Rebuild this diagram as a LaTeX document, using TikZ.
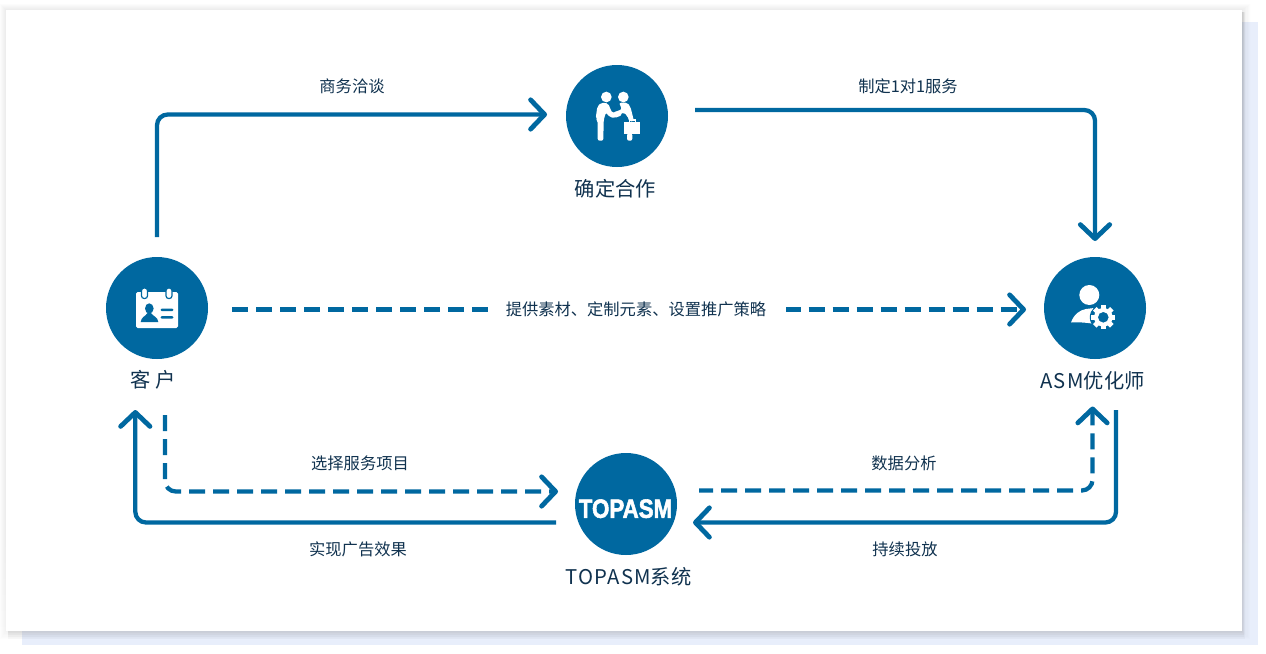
\documentclass[tikz,border=0pt]{standalone}
\usepackage{fontspec}
\setmainfont{Noto Sans CJK SC}
\newfontfamily\logofont[FakeBold=2.2]{Liberation Sans}
\newfontfamily\widelatin[LetterSpace=6]{Noto Sans CJK SC}
\usetikzlibrary{arrows.meta}
\definecolor{flow}{HTML}{0068A0}
\definecolor{ink}{HTML}{10324F}
\definecolor{back}{HTML}{E8EEFB}
\definecolor{shade}{HTML}{5A6E96}
\tikzset{
  x=0.75pt,y=-0.75pt,
  hub/.style={circle,fill=flow,draw=none,minimum size=76.5pt,inner sep=0pt},
  small/.style={text=ink,font=\fontsize{12.2pt}{14pt}\selectfont,inner sep=0pt},
  big/.style={text=ink,font=\fontsize{15.2pt}{18pt}\selectfont,inner sep=0pt},
  wire/.style={draw=flow,line width=3.2pt,rounded corners=8pt,-{Straight Barb[length=10.5pt,width=22pt,round,line width=3.6pt]}},
  wireplain/.style={draw=flow,line width=3.2pt},
  dashline/.style={dash pattern=on 12pt off 6pt},
  icon/.style={fill=white,draw=none},
}
\begin{document}
\begin{tikzpicture}
\useasboundingbox (0,0) rectangle (1266,653);
\fill[white] (0,0) rectangle (1266,653);
\fill[back] (22,22) rectangle (1258,645);
% soft shadow of the panel
\foreach \d in {12,10,8,6,4,2}{
  \fill[shade,opacity=0.008] (6-\d*0.5,10-\d*0.5) rectangle (1242+\d*0.7,631+\d*0.7);
}
\foreach \d in {8,6,4,2}{
  \fill[shade,opacity=0.025] (8,12) rectangle (1242+\d*0.4,631+\d);
}
\fill[white] (6,10) rectangle (1242,631);

% hubs
\node[hub] (client) at (157,308) {};
\node[hub] (deal) at (617,116) {};
\node[hub] (asm) at (1095,308) {};
\node[hub] (sys) at (626,504) {};

% hub captions
\node[big] (clientT) at (153,380) {客 户};
\node[big] (dealT) at (615.5,188.5) {确定合作};
\node[big] (asmT) at (1092.5,380.5) {{\widelatin ASM}优化师};
\node[big] (sysT) at (628.5,576.5) {{\widelatin TOPASM}系统};

% connector labels
\node[small] (l1) at (352,86) {商务洽谈};
\node[small] (l2) at (908,86) {制定1对1服务};
\node[small] (l3) at (636,309.5) {提供素材、定制元素、设置推广策略};
\node[small] (l4) at (360,463) {选择服务项目};
\node[small] (l5) at (358,549) {实现广告效果};
\node[small] (l6) at (904,463) {数据分析};
\node[small] (l7) at (905,549) {持续投放};

% connector ends
\coordinate (a1) at (157,237);
\coordinate (a2) at (547,114.5);
\coordinate (b1) at (695,110);
\coordinate (b2) at (1095,241);
\coordinate (c1) at (232,309.5);
\coordinate (c2) at (488,309.5);
\coordinate (c3) at (786,309.5);
\coordinate (c4) at (1026,309.5);
\coordinate (d1) at (165,415);
\coordinate (d2) at (558,491.5);
\coordinate (e1) at (556,522.5);
\coordinate (e2) at (135.3,410);
\coordinate (f1) at (699,490.5);
\coordinate (f2) at (1092.5,406.5);
\coordinate (g1) at (1116,410);
\coordinate (g2) at (693,522.5);

\draw[wire] (a1) |- (a2);
\draw[wire] (b1) -| (b2);
\draw[wireplain,dashline] (c1) -- (c2);
\draw[wire,dash pattern=on 12pt off 6pt,dash phase=1pt] (c3) -- (c4);
\draw[wire,dashline] (d1) |- (d2);
\draw[wire] (e1) -| (e2);
\draw[wire,dash pattern=on 12pt off 6pt,dash phase=1.5pt] (f1) -| (f2);
\draw[wire] (g1) |- (g2);

% handshake icon (coordinates read at 3x)
\begin{scope}[shift={(540,50)},x=0.25pt,y=-0.25pt]
  \fill[icon] (199,141) circle[radius=16];
  \fill[icon] (250,141) circle[radius=16];
  \fill[icon,rounded corners=1.5pt] (183,158) -- (205,160) -- (210,175) -- (218,190) -- (245,186) -- (247,195) -- (225,204) -- (208,201) -- (198,187) -- (191,210) -- (190,272) -- (173,272) -- (173,212) -- (167,205) -- (172,170) -- cycle;
  \fill[icon,rounded corners=1.5pt] (238,158) -- (262,158) -- (271,170) -- (282,213) -- (268,215) -- (262,197) -- (250,187) -- (222,197) -- (218,188) -- (246,178) -- (240,166) -- cycle;
  \fill[icon] (253,216) rectangle (300,252);
  \draw[white,line width=0.9pt] (268,216) -- (268,210) -- (286,210) -- (286,216);
  \fill[icon,rounded corners=1.5pt] (261,250) rectangle (277,272);
\end{scope}

% card icon
\fill[icon,rounded corners=1.2pt] (136,292) rectangle (178,328);
\foreach \rx in {144.5,169}{
  \draw[flow,line width=0.9pt,fill=white,rounded corners=2pt] (\rx-3,288) rectangle (\rx+3,298.5);
}
\fill[flow] (149.3,308.5) ellipse[x radius=4.3,y radius=5.2];
\fill[flow] (140.7,322) .. controls (141,317) and (146,316) .. (147.5,313) -- (151,313) .. controls (152.5,316) and (158,317) .. (158.3,322) -- cycle;
\fill[flow,rounded corners=1pt] (160.5,308.5) rectangle (173.5,311.2);
\fill[flow,rounded corners=1pt] (160.5,316) rectangle (173.5,318.7);

% engineer icon
\fill[icon] (1089.3,295) circle[radius=10];
\fill[icon] (1071,322.5) .. controls (1074,314) and (1080,310) .. (1086,309) -- (1094,308) -- (1092,323.5) .. controls (1085,322.5) and (1078,322) .. (1071,322.5) -- cycle;
\fill[flow] (1103.3,317.3) circle[radius=13.5];
\foreach \ang in {0,45,...,315}{
  \fill[icon,rotate around={\ang:(1103.3,317.3)}] (1100.8,305.2) rectangle (1105.8,310);
}
\fill[icon,even odd rule] (1103.3,317.3) circle[radius=9.3] (1103.3,317.3) circle[radius=5.4];

% logo
\node[inner sep=0pt,text=white,xscale=0.93,yscale=1.1,font=\logofont\bfseries\fontsize{18pt}{20pt}\selectfont] (logo) at (625.5,508.7) {TOPASM};
\end{tikzpicture}
\end{document}
